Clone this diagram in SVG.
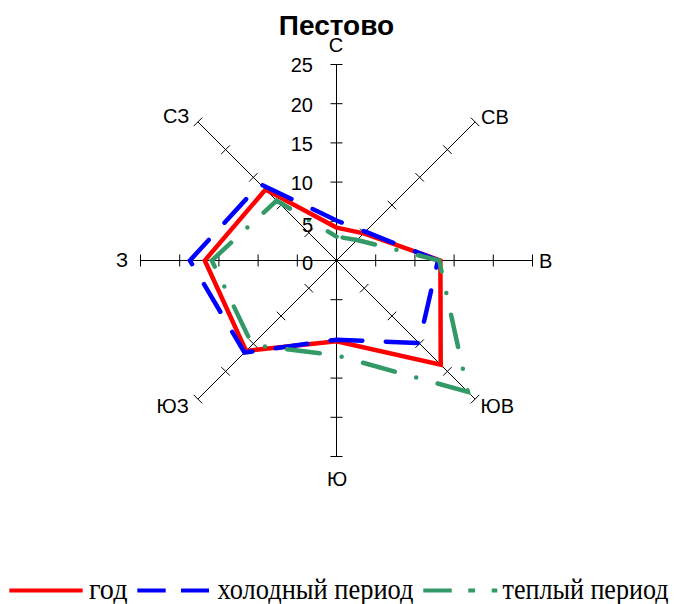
<svg xmlns="http://www.w3.org/2000/svg" width="674" height="604" viewBox="0 0 674 604">
<style>
.ax{fill:none;stroke:#000;stroke-width:1}
.lbl{font-family:"Liberation Sans",Arial,sans-serif;font-size:20px;fill:#000}
.num{font-family:"Liberation Sans",Arial,sans-serif;font-size:20px;fill:#000;text-anchor:end}
.ttl{font-family:"Liberation Sans",Arial,sans-serif;font-size:28px;font-weight:bold;fill:#000;text-anchor:middle}
.leg{font-family:"Liberation Serif","Times New Roman",serif;font-size:30px;fill:#000}
.s{fill:none;stroke-width:4.5;stroke-linejoin:miter}
.red{stroke:#FF0000}
.blue{stroke:#0000FF;stroke-linecap:round;stroke-dasharray:32 23.4;stroke-dashoffset:26.4}
.green{stroke:#339966;stroke-linecap:round;stroke-dasharray:33 22.2 0 22.2;stroke-dashoffset:71.15}
.lr{stroke:#FF0000;stroke-width:4;fill:none}
.lb{stroke:#0000FF;stroke-width:4;fill:none;stroke-dasharray:28.4 15.3}
.lg{stroke:#339966;stroke-width:4;fill:none;stroke-dasharray:28.4 16.6 6.7 16.7}
</style>
<rect width="674" height="604" fill="#fff"/>
<g id="title"><text class="ttl" x="336.5" y="35">Пестово</text></g>
<g id="chart" transform="translate(336.5,260.5)">
<g id="axes">
<path class="ax" d="M0,-196V196M-6,-39.2H6M-6,-78.4H6M-6,-117.6H6M-6,-156.8H6M-6,-196H6M-6,39.2H6M-6,78.4H6M-6,117.6H6M-6,156.8H6M-6,196H6"/>
<path class="ax" d="M-196,0H196M39.2,-6V6M78.4,-6V6M117.6,-6V6M156.8,-6V6M196,-6V6M-39.2,-6V6M-78.4,-6V6M-117.6,-6V6M-156.8,-6V6M-196,-6V6"/>
<path class="ax" d="M-138.59,138.59L138.59,-138.59M23.48,-31.96L31.96,-23.48M51.2,-59.68L59.68,-51.2M78.92,-87.4L87.4,-78.92M106.63,-115.11L115.11,-106.63M134.35,-142.83L142.83,-134.35M-31.96,23.48L-23.48,31.96M-59.68,51.2L-51.2,59.68M-87.4,78.92L-78.92,87.4M-115.11,106.63L-106.63,115.11M-142.83,134.35L-134.35,142.83"/>
<path class="ax" d="M-138.59,-138.59L138.59,138.59M-31.96,-23.48L-23.48,-31.96M-59.68,-51.2L-51.2,-59.68M-87.4,-78.92L-78.92,-87.4M-115.11,-106.63L-106.63,-115.11M-142.83,-134.35L-134.35,-142.83M23.48,31.96L31.96,23.48M51.2,59.68L59.68,51.2M78.92,87.4L87.4,78.92M106.63,115.11L115.11,106.63M134.35,142.83L142.83,134.35"/>
</g>
<g id="series">
<path id="god" class="s red" d="M0,-32.9L27.2,-27.2L103.9,0L104.2,104.2L0,80.8L-90.4,90.4L-131.7,0L-71,-71Z"/>
<path id="cold" class="s blue" d="M0,-40L28.8,-28.8L101.5,0L82.6,82.6L0,79.2L-92,92L-146.6,0L-76.5,-76.5Z"/>
<path id="warm" class="s green" d="M0,-23.9L20.5,-20.5L102.7,0L131.4,131.4L0,94.9L-84.3,84.3L-124.7,0L-59.9,-59.9Z"/>
</g>
</g>
<g id="ticklabels">
<text class="num" x="313" y="72.3">25</text>
<text class="num" x="313" y="111.7">20</text>
<text class="num" x="313" y="150.7">15</text>
<text class="num" x="313" y="190">10</text>
<text class="num" x="313" y="232">5</text>
<text class="num" x="313" y="270">0</text>
</g>
<g id="directions">
<text class="lbl" x="336" y="52" text-anchor="middle">С</text>
<text class="lbl" x="481" y="124">СВ</text>
<text class="lbl" x="539" y="268">В</text>
<text class="lbl" x="480.5" y="413">ЮВ</text>
<text class="lbl" x="337" y="486" text-anchor="middle">Ю</text>
<text class="lbl" x="156.5" y="413">ЮЗ</text>
<text class="lbl" x="163" y="123">СЗ</text>
<text class="lbl" x="116" y="267">З</text>
</g>
<g id="legend">
<line class="lr" x1="9.3" y1="590.5" x2="82.7" y2="590.5"/>
<text class="leg" x="89" y="599.3" textLength="38.5" lengthAdjust="spacingAndGlyphs">год</text>
<line class="lb" x1="137.3" y1="590.5" x2="209" y2="590.5"/>
<text class="leg" x="217.5" y="599.3" textLength="196" lengthAdjust="spacingAndGlyphs">холодный период</text>
<line class="lg" x1="423.3" y1="590.5" x2="497.3" y2="590.5"/>
<text class="leg" x="502.5" y="599.3" textLength="166" lengthAdjust="spacingAndGlyphs">теплый период</text>
</g>
</svg>
